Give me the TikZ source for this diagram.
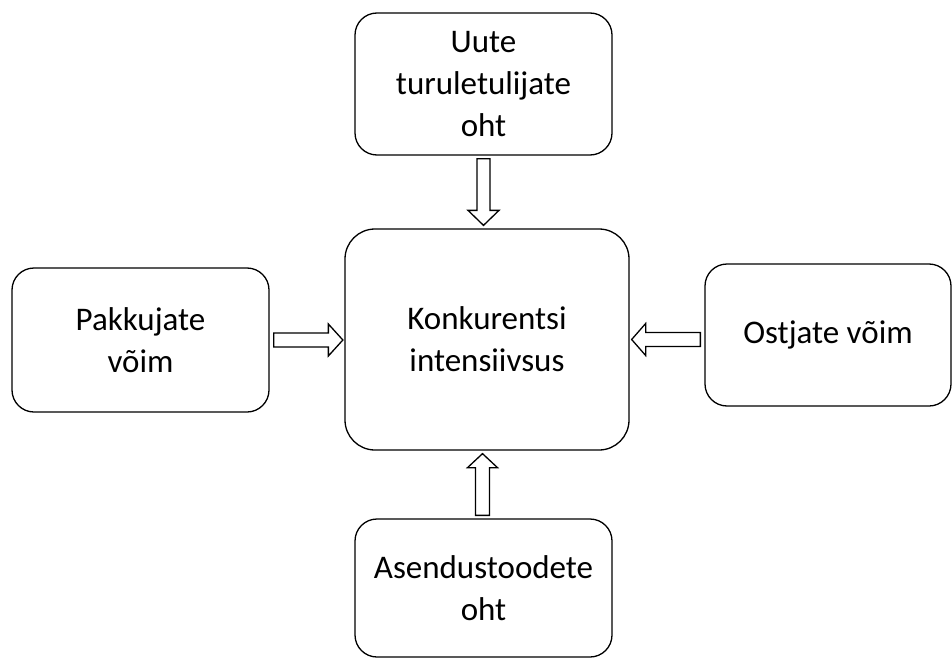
\documentclass[tikz,border=0pt]{standalone}
\usepackage{fontspec}
\setmainfont{Carlito}
\usetikzlibrary{calc}
\begin{document}
\begin{tikzpicture}[x=1pt,y=-1pt,
  box/.style={draw=black, line width=1.3pt, rounded corners=22pt, align=center,
    inner sep=0pt, font=\fontsize{33}{42}\selectfont},
  bigbox/.style={box, rounded corners=30pt},
  blockarrow/.style={draw=black, line width=1.3pt, fill=white, line join=miter}]
\useasboundingbox (0,0) rectangle (952,658);
\node[box, minimum width=257pt, minimum height=142pt] (top) at (483.5,84) {Uute\\turuletulijate\\oht};
\node[bigbox, minimum width=284pt, minimum height=221pt] (center) at (487,339.5) {Konkurentsi\\intensiivsus};
\node[box, minimum width=257pt, minimum height=144pt] (left) at (140.5,340) {Pakkujate\\võim};
\node[box, minimum width=246pt, minimum height=142pt] (right) at (828,335) {Ostjate võim};
\node[box, minimum width=257pt, minimum height=138pt] (bottom) at (483.5,588) {Asendustoodete\\oht};
% top arrow (down)
\draw[blockarrow] let \p1=(top.south), \p2=(center.north) in
  (\x1-6.5pt,\y1-3pt) -- (\x1-6.5pt,\y2+18pt) -- (\x1-15.5pt,\y2+18pt) -- (\x1,\y2+3pt)
  -- (\x1+15.5pt,\y2+18pt) -- (\x1+6.5pt,\y2+18pt) -- (\x1+6.5pt,\y1-3pt) -- cycle;
% left arrow (right)
\draw[blockarrow] let \p1=(left.east), \p2=(center.west) in
  (\x1+4pt,\y1+7pt) -- (\x2-16pt,\y1+7pt) -- (\x2-16pt,\y1+16pt) -- (\x2-1.5pt,\y1)
  -- (\x2-16pt,\y1-16pt) -- (\x2-16pt,\y1-7pt) -- (\x1+4pt,\y1-7pt) -- cycle;
% right arrow (left)
\draw[blockarrow] let \p1=(right.west), \p2=(center.east) in
  (\x1-4pt,\y2+7pt) -- (\x2+16pt,\y2+7pt) -- (\x2+16pt,\y2+16pt) -- (\x2+2pt,\y2)
  -- (\x2+16pt,\y2-16pt) -- (\x2+16pt,\y2-7pt) -- (\x1-4pt,\y2-7pt) -- cycle;
% bottom arrow (up)
\draw[blockarrow] let \p1=(bottom.north), \p2=(center.south) in
  (\x1-8pt,\y1+3pt) -- (\x1-8pt,\y2-17pt) -- (\x1-16pt,\y2-17pt) -- (\x1-1pt,\y2-3pt)
  -- (\x1+14pt,\y2-17pt) -- (\x1+6pt,\y2-17pt) -- (\x1+6pt,\y1+3pt) -- cycle;
\end{tikzpicture}
\end{document}
